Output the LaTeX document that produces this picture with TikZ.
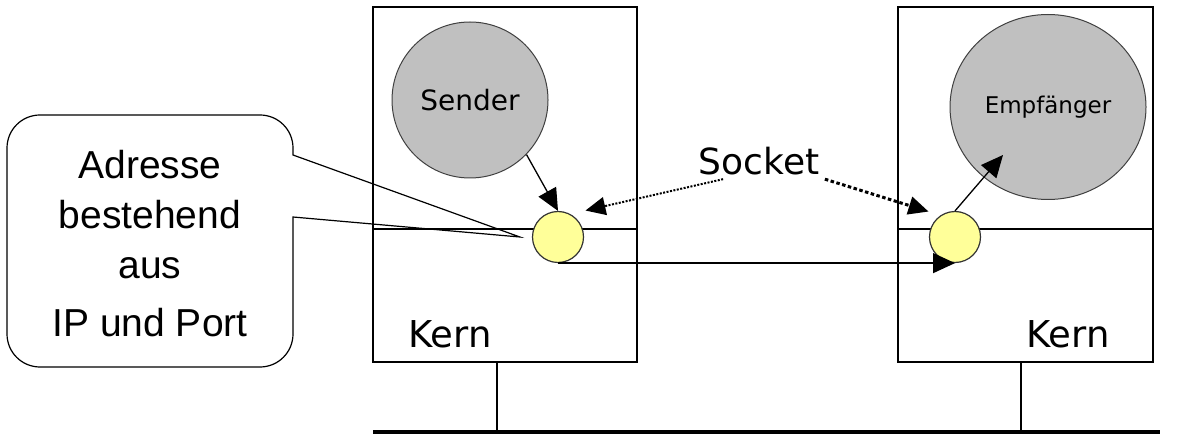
\documentclass[tikz,border=0pt]{standalone}
\usepackage{fontspec}
\setmainfont{DejaVu Sans}
\newfontfamily\arialfont{Liberation Sans}
\usetikzlibrary{positioning,shapes.geometric,arrows.meta}
\definecolor{grau}{HTML}{C0C0C0}
\definecolor{gelb}{HTML}{FFFF99}

\begin{document}
\begin{tikzpicture}
        [x=1pt,y=-1pt,line width=1.3pt,
         prozess/.style={circle,draw=black!75,fill=grau,line width=1pt,inner sep=0pt},
         sock/.style={circle,draw=black!80,fill=gelb,line width=1.2pt,minimum size=51pt,inner sep=0pt},
         pfeil/.style={-{Triangle[length=22pt,width=20pt]},line width=1.3pt},
         punkte/.style={-{Triangle[length=20pt,width=18pt]},line width=2.5pt,dash pattern=on 2.5pt off 2pt},
         kern/.style={anchor=base,inner sep=0pt,font=\fontsize{37}{40}\selectfont}]
        \useasboundingbox (0,0) rectangle (1180,438);

        \foreach \l/\r/\m in {373/637/497, 898/1153/1021} {
            \draw (\l,7) rectangle (\r,362);
            \draw (\l,229) -- (\r,229);
            \draw[line width=2pt] (\m,362) -- (\m,432);
        }
        \draw[line width=4pt] (373,432) -- (1160,432);

        \node[prozess,minimum size=156pt,font=\fontsize{28}{30}\selectfont] (sender) at (470,100) {Sender};
        \node[prozess,ellipse,minimum width=196pt,minimum height=185pt,font=\fontsize{23}{26}\selectfont] (empf) at (1048,107) {Empfänger};
        \node[sock] (s1) at (558,237) {};
        \node[sock] (s2) at (955,237) {};
        \node[anchor=base,inner sep=0pt,font=\fontsize{36}{40}\selectfont] (socket) at (759,175) {Socket};
        \node[kern] (k1) at (450,347) {Kern};
        \node[kern] (k2) at (1068,347) {Kern};
        \node[align=center,inner sep=0pt,font=\arialfont\fontsize{39}{50}\selectfont] (adr) at (150,244)
            {Adresse\\bestehend\\aus\\[8pt]IP und Port};

        \draw[line width=1.2pt] ([xshift=-12pt]s1.west) -- (293,217) [rounded corners=33pt] -- (293,367)
            -- (7,367) -- (7,115) -- (293,115) [sharp corners] -- (293,155) -- cycle;

        \coordinate (ziel) at (1003,155);
        \draw[pfeil] (sender.-44) -- (s1.north);
        \draw[pfeil] (s2.north) -- (ziel);
        \draw[pfeil] (s1.south) -- (s2.south);
        \draw[punkte,line width=2pt,dash pattern=on 2pt off 1.5pt] ([xshift=25pt,yshift=-3pt]socket.south west)
            -- ([xshift=9pt,yshift=8pt]s1.north east);
        \draw[punkte,line width=3pt,dash pattern=on 3.5pt off 2.5pt] ([xshift=5pt,yshift=-3pt]socket.south east)
            -- ([xshift=-8pt,yshift=7pt]s2.north west);
      \end{tikzpicture}
\end{document}
